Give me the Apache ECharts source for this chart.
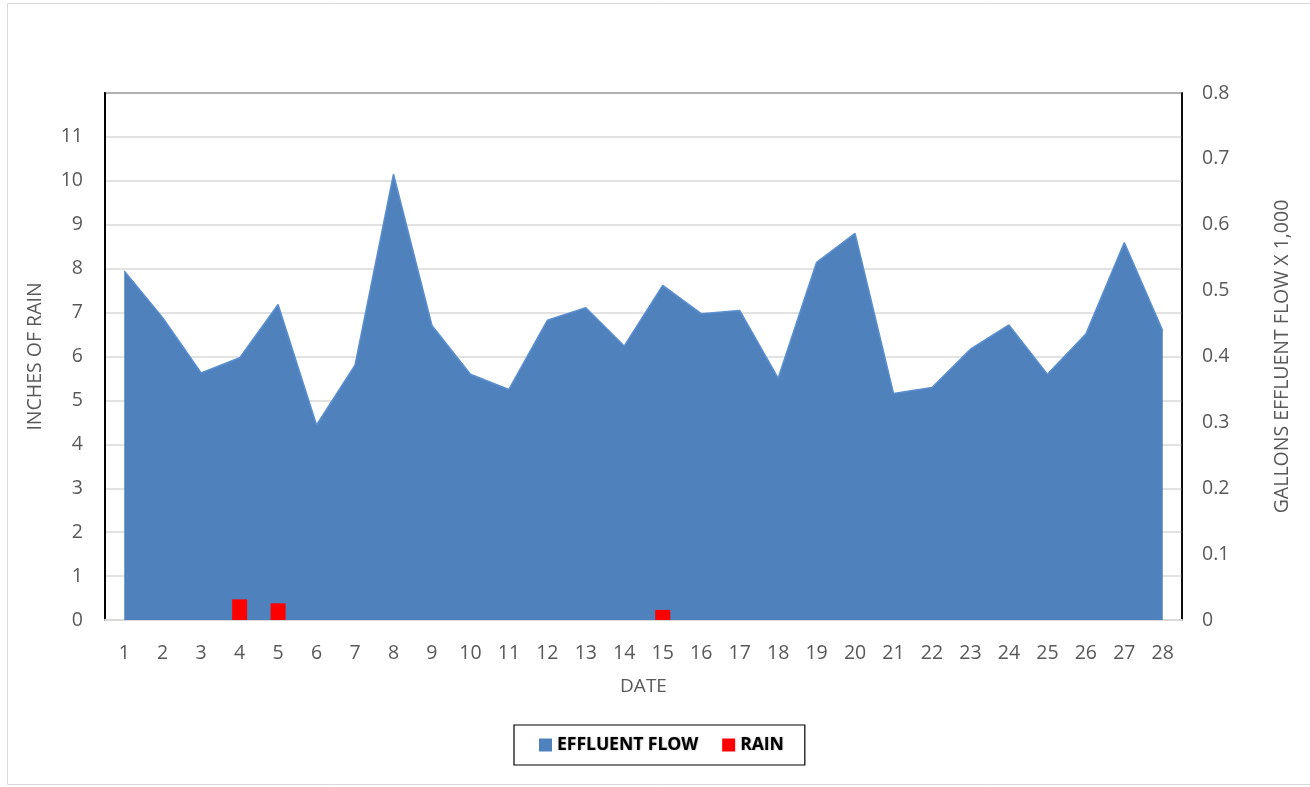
<!DOCTYPE html>
<html>
<head>
<meta charset="utf-8">
<script src="https://cdn.jsdelivr.net/npm/echarts@6/dist/echarts.min.js"></script>
<style>
html,body{margin:0;padding:0;background:#fff;}
#chart{width:1310px;height:787px;}
</style>
</head>
<body>
<div id="chart"></div>
<script>
var dates = ['1','2','3','4','5','6','7','8','9','10','11','12','13','14','15','16','17','18','19','20','21','22','23','24','25','26','27','28'];
var effluentFlow = [0.530,0.459,0.375,0.398,0.479,0.296,0.387,0.677,0.447,0.373,0.350,0.455,0.474,0.416,0.508,0.465,0.470,0.367,0.543,0.587,0.344,0.353,0.411,0.448,0.373,0.434,0.573,0.439];
var rain = [null,null,null,0.47,0.38,null,null,null,null,null,null,null,null,null,0.23,null,null,null,null,null,null,null,null,null,null,null,null,null];
var rainTicks = {min:0, max:12, interval:1};
var flowTicks = {min:0, max:0.8, interval:0.1};

var FONT = '"Open Sans", "Noto Sans", sans-serif';
var chart = echarts.init(document.getElementById('chart'), null, {renderer:'canvas'});
chart.setOption({
  animation:false,
  backgroundColor:'#fff',
  graphic:[{type:'rect', shape:{x:7.5,y:3.5,width:1310,height:781}, style:{fill:'none', stroke:'#d9d9d9', lineWidth:1}, z:-10}],
  grid:{left:105, right:128, top:93, bottom:167, show:true, borderColor:'#000', borderWidth:1.5, backgroundColor:'transparent'},
  legend:{
    left:514, top:725, orient:'horizontal',
    padding:[11,21,11,25], itemGap:24,
    borderColor:'#000', borderWidth:1.2,
    itemWidth:13, itemHeight:13, icon:'rect',
    textStyle:{fontFamily:FONT, fontSize:17.5, fontWeight:'bold', color:'#000',
      textShadowColor:'rgba(0,0,0,0.45)', textShadowBlur:1.5, textShadowOffsetX:0.5, textShadowOffsetY:0.5},
    data:['EFFLUENT FLOW','RAIN']
  },
  xAxis:{
    type:'category', data:dates, boundaryGap:true,
    name:'DATE', nameLocation:'middle', nameGap:57,
    nameTextStyle:{fontFamily:FONT, fontSize:19, color:'#595959'},
    axisLine:{show:true, lineStyle:{color:'#d9d9d9', width:2}},
    axisTick:{show:false},
    axisLabel:{fontFamily:FONT, fontSize:19.5, color:'#595959', margin:23, interval:0}
  },
  yAxis:[{
    type:'value', position:'left', min:rainTicks.min, max:rainTicks.max, interval:rainTicks.interval,
    name:'INCHES OF RAIN', nameLocation:'middle', nameGap:60,
    nameTextStyle:{fontFamily:FONT, fontSize:19.5, color:'#595959'},
    axisLine:{show:true, lineStyle:{color:'#000', width:2}},
    axisTick:{show:false},
    axisLabel:{fontFamily:FONT, fontSize:19.5, color:'#595959', margin:22, showMaxLabel:false},
    splitLine:{show:true, lineStyle:{color:'#d9d9d9', width:1.5}}
  },{
    type:'value', position:'right', min:flowTicks.min, max:flowTicks.max, interval:flowTicks.interval,
    name:'GALLONS EFFLUENT FLOW X 1,000', nameLocation:'middle', nameGap:90,
    nameTextStyle:{fontFamily:FONT, fontSize:19.5, color:'#595959'},
    axisLine:{show:true, lineStyle:{color:'#000', width:1.5}},
    axisTick:{show:false},
    axisLabel:{fontFamily:FONT, fontSize:19.5, color:'#595959', margin:20,
      formatter:function(v){return v===0?'0':(+v.toFixed(1)).toString();}},
    splitLine:{show:false}
  }],
  series:[{
    name:'EFFLUENT FLOW', type:'line', yAxisIndex:1, data:effluentFlow,
    symbol:'none', z:2,
    lineStyle:{color:'#5b8fd0', width:1.5},
    itemStyle:{color:'#4f81bd'},
    areaStyle:{color:'#4f81bd', opacity:1}
  },{
    name:'RAIN', type:'bar', yAxisIndex:0, data:rain, barWidth:15, z:5,
    itemStyle:{color:'#ff0000'}
  }]
});
</script>
</body>
</html>
